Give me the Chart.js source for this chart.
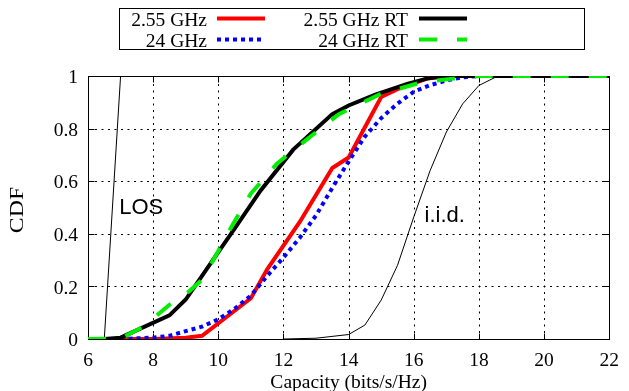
<!DOCTYPE html>
<html>
<head>
<meta charset="utf-8">
<script src="https://cdn.jsdelivr.net/npm/chart.js@4/dist/chart.umd.min.js"></script>
<style>
  html, body { margin: 0; padding: 0; background: #fff; }
  #c { display: block; }
</style>
</head>
<body>
<canvas id="c" width="629" height="391" style="width:629px;height:391px"></canvas>
<script>
// ---- Data ----
const seriesLabels = ['2.55 GHz', '24 GHz', '2.55 GHz RT', '24 GHz RT', 'LOS', 'i.i.d.'];

const capRed = [7, 8, 9, 9.5, 11, 11.5, 12.5, 13.5, 14, 15, 15.5, 16.4, 17, 22];
const cdfRed = [0, 0, 0.005, 0.012, 0.155, 0.265, 0.445, 0.65, 0.69, 0.92, 0.95, 0.99, 1, 1];

const capBlue = [7, 8, 8.5, 9, 9.5, 10, 10.5, 11, 11.5, 12, 12.5, 13, 13.5, 14, 14.5, 15, 15.5, 16, 16.5, 17, 17.5, 18, 22];
const cdfBlue = [0, 0.005, 0.012, 0.03, 0.047, 0.075, 0.115, 0.165, 0.24, 0.31, 0.385, 0.47, 0.575, 0.675, 0.77, 0.84, 0.895, 0.94, 0.965, 0.983, 0.995, 1, 1];

const capBlackRT = [6.5, 7, 8.5, 9, 9.5, 10, 10.5, 11.3, 12.3, 13.5, 14, 14.8, 15.8, 16.4, 17, 22];
const cdfBlackRT = [0, 0.005, 0.09, 0.15, 0.24, 0.33, 0.42, 0.565, 0.72, 0.855, 0.888, 0.928, 0.97, 0.99, 1, 1];

const capGreenRT = [6, 7, 7.7, 8.5, 9, 9.5, 10, 10.4, 11, 11.8, 12.7, 13.7, 14.95, 16.2, 17.2, 18, 22];
const cdfGreenRT = [0, 0.002, 0.047, 0.13, 0.17, 0.225, 0.335, 0.426, 0.553, 0.667, 0.757, 0.855, 0.93, 0.975, 0.99, 1, 1];

const capLOS = [6.5, 7];
const cdfLOS = [0, 1];

const capIID = [12, 13, 14, 14.5, 15, 15.5, 16, 16.5, 17, 17.5, 18, 18.5, 19, 22];
const cdfIID = [0, 0.003, 0.017, 0.053, 0.148, 0.28, 0.464, 0.64, 0.787, 0.894, 0.964, 0.995, 1, 1];

const xTickValues = [6, 8, 10, 12, 14, 16, 18, 20, 22];
const yTickValues = [0, 0.2, 0.4, 0.6, 0.8, 1];
const xTitle = 'Capacity (bits/s/Hz)';
const yTitle = 'CDF';

// text annotations (anchor in data units)
const notes = [
  { text: 'LOS', x: 6.96, y: 0.477 },
  { text: 'i.i.d.', x: 16.33, y: 0.445 }
];

// ---- helpers ----
const pts = (xs, ys) => xs.map((x, i) => ({ x: x, y: ys[i] }));
const SERIF = '"Liberation Serif", "Times New Roman", serif';
const SANS = '"Liberation Sans", Arial, sans-serif';

const datasets = [
  { label: seriesLabels[0], data: pts(capRed, cdfRed), borderColor: '#ff0000', borderWidth: 4, borderDash: [], order: 4 },
  { label: seriesLabels[1], data: pts(capBlue, cdfBlue), borderColor: '#0000ff', borderWidth: 4, borderDash: [4, 4], order: 3 },
  { label: seriesLabels[2], data: pts(capBlackRT, cdfBlackRT), borderColor: '#000000', borderWidth: 4, borderDash: [], order: 2 },
  { label: seriesLabels[3], data: pts(capGreenRT, cdfGreenRT), borderColor: '#00ee00', borderWidth: 4, borderDash: [18, 20], order: 1 },
  { label: seriesLabels[4], data: pts(capLOS, cdfLOS), borderColor: '#000000', borderWidth: 1, borderDash: [], order: 5 },
  { label: seriesLabels[5], data: pts(capIID, cdfIID), borderColor: '#000000', borderWidth: 1, borderDash: [], order: 6 }
].map(d => Object.assign({
  showLine: true, pointRadius: 0, pointHoverRadius: 0, tension: 0, fill: false,
  borderCapStyle: 'butt', borderJoinStyle: 'miter'
}, d));

// dotted grid, frame and inward tick marks (positions from the chart's scales)
const framePlugin = {
  id: 'frame',
  afterLayout(chart) {
    const s = chart.scales.y;
    if (s && !s._stretched) {
      const orig = s.drawTitle;
      s.drawTitle = function () {
        const c = this.ctx;
        const cy = (this.top + this.bottom) / 2;
        c.save();
        c.translate(0, cy + 2.5);
        c.scale(1, 1.22);
        c.translate(0, -cy);
        orig.apply(this, arguments);
        c.restore();
      };
      s._stretched = true;
    }
  },
  beforeDatasetsDraw(chart) {
    const { ctx, chartArea: a, scales: { x, y } } = chart;
    const L = Math.round(a.left) + 0.5, R = Math.round(a.right) + 0.5;
    const T = Math.round(a.top) + 0.5, B = Math.round(a.bottom) + 0.5;
    ctx.save();
    ctx.strokeStyle = '#000';
    ctx.lineWidth = 1;
    // grid
    ctx.setLineDash([2, 4.5]);
    ctx.beginPath();
    x.ticks.forEach(t => {
      const px = Math.round(x.getPixelForValue(t.value)) + 0.5;
      if (px <= L + 1 || px >= R - 1) return;
      ctx.moveTo(px, B); ctx.lineTo(px, T);
    });
    y.ticks.forEach(t => {
      const py = Math.round(y.getPixelForValue(t.value)) + 0.5;
      if (py <= T + 1 || py >= B - 1) return;
      ctx.moveTo(L, py); ctx.lineTo(R, py);
    });
    ctx.stroke();
    // ticks
    ctx.setLineDash([]);
    ctx.beginPath();
    const TL = 6;
    x.ticks.forEach(t => {
      const px = Math.round(x.getPixelForValue(t.value)) + 0.5;
      ctx.moveTo(px, B); ctx.lineTo(px, B - TL);
      ctx.moveTo(px, T); ctx.lineTo(px, T + TL);
    });
    y.ticks.forEach(t => {
      const py = Math.round(y.getPixelForValue(t.value)) + 0.5;
      ctx.moveTo(L, py); ctx.lineTo(L + TL, py);
      ctx.moveTo(R, py); ctx.lineTo(R - TL, py);
    });
    ctx.stroke();
    // frame
    ctx.strokeRect(L, T, R - L, B - T);
    ctx.restore();
  },
  afterDatasetsDraw(chart) {
    const { ctx, scales: { x, y } } = chart;
    ctx.save();
    ctx.fillStyle = '#000';
    ctx.font = '22px ' + SANS;
    ctx.textAlign = 'left';
    ctx.textBaseline = 'alphabetic';
    notes.forEach(n => ctx.fillText(n.text, x.getPixelForValue(n.x), y.getPixelForValue(n.y)));
    ctx.restore();
  }
};

// boxed legend in gnuplot style: label right-aligned, sample to its right
const legendPlugin = {
  id: 'boxLegend',
  afterDraw(chart) {
    const ctx = chart.ctx;
    const ds = chart.data.datasets;
    ctx.save();
    ctx.strokeStyle = '#000';
    ctx.lineWidth = 1;
    ctx.setLineDash([]);
    ctx.strokeRect(119.5, 8.5, 465, 41);
    ctx.font = '19.5px ' + SERIF;
    ctx.fillStyle = '#000';
    ctx.textAlign = 'right';
    ctx.textBaseline = 'alphabetic';
    const slots = [
      { i: 0, tx: 207, sx: 217, y: 18.5 },
      { i: 1, tx: 207, sx: 217, y: 39.5 },
      { i: 2, tx: 408, sx: 419, y: 18.5 },
      { i: 3, tx: 408, sx: 419, y: 39.5 }
    ];
    slots.forEach(s => {
      const d = ds[s.i];
      ctx.fillText(d.label, s.tx, s.y + 7.5);
      ctx.save();
      ctx.strokeStyle = d.borderColor;
      ctx.lineWidth = d.borderWidth;
      ctx.lineCap = 'butt';
      ctx.setLineDash(d.borderDash || []);
      ctx.beginPath();
      ctx.moveTo(s.sx, s.y);
      ctx.lineTo(s.sx + 48, s.y);
      ctx.stroke();
      ctx.restore();
    });
    ctx.restore();
  }
};

const tickFont = { family: SERIF, size: 19.5 };

new Chart(document.getElementById('c'), {
  type: 'scatter',
  data: { datasets: datasets },
  plugins: [framePlugin, legendPlugin],
  options: {
    responsive: false,
    animation: false,
    devicePixelRatio: 1,
    layout: { padding: { left: 0, right: 13, top: 76, bottom: 0 } },
    plugins: { legend: { display: false }, tooltip: { enabled: false } },
    scales: {
      x: {
        type: 'linear', min: 6, max: 22,
        afterBuildTicks: s => { s.ticks = xTickValues.map(v => ({ value: v })); },
        afterFit: s => { s.height = 52; },
        ticks: { font: tickFont, color: '#000', padding: 10, maxRotation: 0, autoSkip: false },
        grid: { display: false, drawTicks: false },
        border: { display: false },
        title: { display: true, text: xTitle, font: tickFont, color: '#000', padding: { top: 0, bottom: -4 } }
      },
      y: {
        type: 'linear', min: 0, max: 1,
        afterBuildTicks: s => { s.ticks = yTickValues.map(v => ({ value: v })); },
        afterFit: s => { s.width = 88; },
        ticks: { font: tickFont, color: '#000', padding: 10, autoSkip: false, labelOffset: 2,
                 callback: v => String(v) },
        grid: { display: false, drawTicks: false },
        border: { display: false },
        title: { display: true, text: yTitle, font: tickFont, color: '#000', padding: { top: 6, bottom: 0 } }
      }
    }
  }
});
</script>
</body>
</html>
